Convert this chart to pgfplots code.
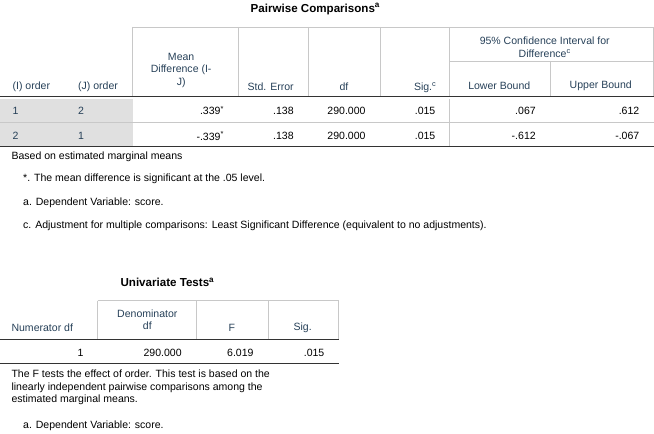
\documentclass[border=0pt]{standalone}
\usepackage{pgfplots}
\pgfplotsset{compat=1.18}
\usepackage{fontspec}
\setmainfont{Liberation Sans}
\definecolor{hd}{RGB}{38,64,88}
\definecolor{sh}{RGB}{224,224,224}
\definecolor{vl}{RGB}{200,200,200}
\begin{document}
\begin{tikzpicture}
\begin{axis}[scale only axis, width=654bp, height=453bp, xmin=0, xmax=654, ymin=0, ymax=453, y dir=reverse, axis lines=none, clip=false,
  every node/.style={font=\fontsize{8.5}{10}\selectfont, inner sep=0pt}]
% Table 1
\node[font=\bfseries\fontsize{11}{13}\selectfont] at (axis cs:310,28) {Pairwise Comparisons\textsuperscript{a}};
\fill[sh] (axis cs:12,113) rectangle (axis cs:137,158);
\draw[vl] (axis cs:137,45) -- (axis cs:630,45);
\draw[vl] (axis cs:437,77) -- (axis cs:630,77);
\draw[vl] (axis cs:137,45) -- (axis cs:137,111);
\draw[vl] (axis cs:237,45) -- (axis cs:237,111);
\draw[vl] (axis cs:303,45) -- (axis cs:303,111);
\draw[vl] (axis cs:371,45) -- (axis cs:371,111);
\draw[vl] (axis cs:437,45) -- (axis cs:437,111);
\draw[vl] (axis cs:532,77) -- (axis cs:532,111);
\draw[vl] (axis cs:630,45) -- (axis cs:630,111);
\draw[vl] (axis cs:12,135) -- (axis cs:630,135);
\draw[vl] (axis cs:437,113) -- (axis cs:437,158);
\draw[thick,black!80] (axis cs:12,111) -- (axis cs:630,111);
\draw[thick,black!80] (axis cs:12,158) -- (axis cs:630,158);
\node[hd,anchor=west] at (axis cs:20,102) {(I) order};
\node[hd,anchor=west] at (axis cs:82,102) {(J) order};
\node[hd,align=center] at (axis cs:183,86) {Mean\\Difference (I-\\J)};
\node[hd,anchor=east] at (axis cs:293,102) {Std. Error};
\node[hd] at (axis cs:337,102) {df};
\node[hd,anchor=east] at (axis cs:428,102) {Sig.\textsuperscript{c}};
\node[hd,align=center] at (axis cs:527,64) {95\% Confidence Interval for\\Difference\textsuperscript{c}};
\node[hd] at (axis cs:484,101) {Lower Bound};
\node[hd] at (axis cs:580,101) {Upper Bound};
\node[hd,anchor=west] at (axis cs:20,124) {1};
\node[hd,anchor=west] at (axis cs:82,124) {2};
\node[hd,anchor=west] at (axis cs:20,148) {2};
\node[hd,anchor=west] at (axis cs:82,148) {1};
\node[anchor=east] at (axis cs:227,124) {.339\textsuperscript{*}};
\node[anchor=east] at (axis cs:293,124) {.138};
\node[anchor=east] at (axis cs:361,124) {290.000};
\node[anchor=east] at (axis cs:427,124) {.015};
\node[anchor=east] at (axis cs:522,124) {.067};
\node[anchor=east] at (axis cs:620,124) {.612};
\node[anchor=east] at (axis cs:227,148) {-.339\textsuperscript{*}};
\node[anchor=east] at (axis cs:293,148) {.138};
\node[anchor=east] at (axis cs:361,148) {290.000};
\node[anchor=east] at (axis cs:427,148) {.015};
\node[anchor=east] at (axis cs:522,148) {-.612};
\node[anchor=east] at (axis cs:620,148) {-.067};
\node[anchor=west] at (axis cs:19,168) {Based on estimated marginal means};
\node[anchor=west] at (axis cs:30,189) {*. The mean difference is significant at the .05 level.};
\node[anchor=west] at (axis cs:30,211) {a. Dependent Variable: score.};
\node[anchor=west] at (axis cs:30,233) {c. Adjustment for multiple comparisons: Least Significant Difference (equivalent to no adjustments).};
% Table 2
\node[font=\bfseries\fontsize{11}{13}\selectfont] at (axis cs:170,287) {Univariate Tests\textsuperscript{a}};
\draw[vl] (axis cs:104,304) -- (axis cs:332,304);
\draw[vl] (axis cs:104,304) -- (axis cs:104,341);
\draw[vl] (axis cs:197,304) -- (axis cs:197,341);
\draw[vl] (axis cs:265,304) -- (axis cs:265,341);
\draw[vl] (axis cs:332,304) -- (axis cs:332,341);
\draw[thick,black!80] (axis cs:12,341) -- (axis cs:332,341);
\draw[thick,black!80] (axis cs:12,363) -- (axis cs:332,363);
\node[hd,anchor=west] at (axis cs:19,330) {Numerator df};
\node[hd,align=center] at (axis cs:151,322) {Denominator\\df};
\node[hd] at (axis cs:231,330) {F};
\node[hd] at (axis cs:298,330) {Sig.};
\node[anchor=east] at (axis cs:94,353) {1};
\node[anchor=east] at (axis cs:187,353) {290.000};
\node[anchor=east] at (axis cs:255,353) {6.019};
\node[anchor=east] at (axis cs:322,353) {.015};
\node[anchor=west,align=left] at (axis cs:19,386) {The F tests the effect of order. This test is based on the\\linearly independent pairwise comparisons among the\\estimated marginal means.};
\node[anchor=west] at (axis cs:30,422) {a. Dependent Variable: score.};
\end{axis}
\end{tikzpicture}
\end{document}
